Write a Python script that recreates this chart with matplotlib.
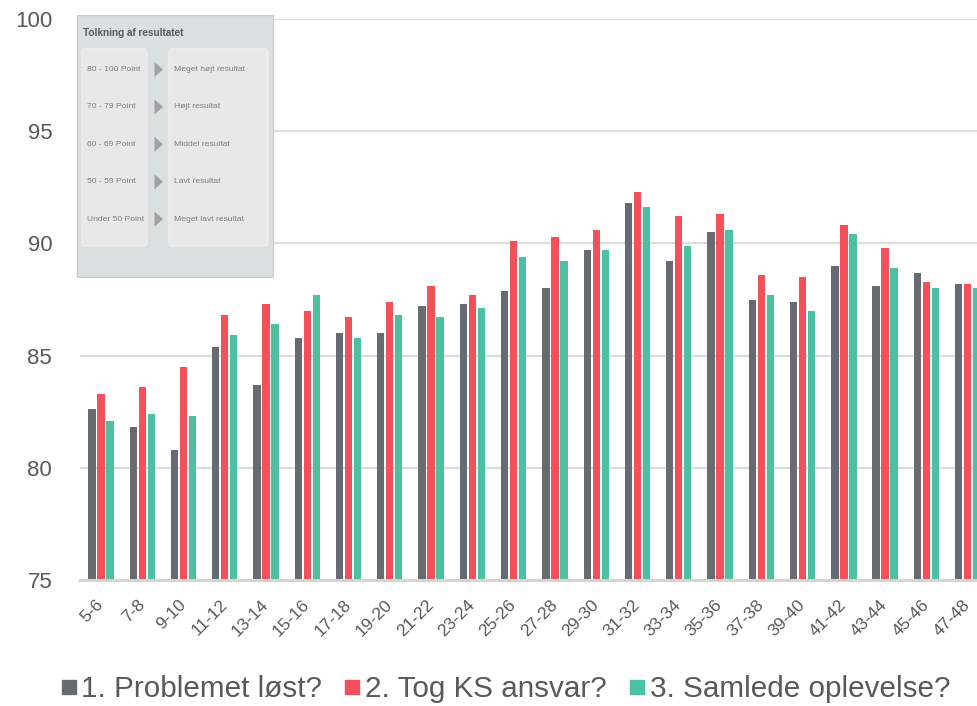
import matplotlib
matplotlib.use("Agg")
import matplotlib.pyplot as plt
import numpy as np
from matplotlib.lines import Line2D
from matplotlib.patches import FancyBboxPatch, Rectangle, Polygon

plt.rcParams["font.family"] = ["Liberation Sans", "DejaVu Sans"]

groups = ["5-6", "7-8", "9-10", "11-12", "13-14", "15-16", "17-18", "19-20",
          "21-22", "23-24", "25-26", "27-28", "29-30", "31-32", "33-34", "35-36",
          "37-38", "39-40", "41-42", "43-44", "45-46", "47-48"]

problem_solved = [82.6, 81.8, 80.8, 85.4, 83.7, 85.8, 86.0, 86.0, 87.2, 87.3, 87.9,
                  88.0, 89.7, 91.8, 89.2, 90.5, 87.5, 87.4, 89.0, 88.1, 88.7, 88.2]
took_ownership = [83.3, 83.6, 84.5, 86.8, 87.3, 87.0, 86.7, 87.4, 88.1, 87.7, 90.1,
                  90.3, 90.6, 92.3, 91.2, 91.3, 88.6, 88.5, 90.8, 89.8, 88.3, 88.2]
overall = [82.1, 82.4, 82.3, 85.9, 86.4, 87.7, 85.8, 86.8, 86.7, 87.1, 89.4,
           89.2, 89.7, 91.6, 89.9, 90.6, 87.7, 87.0, 90.4, 88.9, 88.0, 88.0]

series_names = ["1. Problemet løst?", "2. Tog KS ansvar?", "3. Samlede oplevelse?"]
colors = ["#666b72", "#f5505a", "#4cc0a0"]

score_ranges = ["80 - 100 Point", "70 - 79 Point", "60 - 69 Point",
                "50 - 59 Point", "Under 50 Point"]
score_meaning = ["Meget højt resultat", "Højt resultat", "Middel resultat",
                 "Lavt resultat", "Meget lavt resultat"]

W, H = 978, 706
fig = plt.figure(figsize=(W / 100, H / 100), dpi=100)
ax = fig.add_axes([80 / W, 1 - 580 / H, 1 - 80 / W, (580 - 19) / H])

x = np.arange(len(groups))
step = 0.218
width = 0.177
for i, vals in enumerate([problem_solved, took_ownership, overall]):
    ax.bar(x + (i - 1) * step, vals, width, color=colors[i], zorder=3)

ax.set_ylim(75, 100)
ax.set_xlim(-0.506, 21.25)
ax.set_yticks([75, 80, 85, 90, 95, 100])
ax.grid(axis="y", color="#dcdcdc", linewidth=1.6, zorder=0)
ax.set_axisbelow(True)
for side in ["top", "left", "right"]:
    ax.spines[side].set_visible(False)
ax.spines["bottom"].set_color("#d4d4d4")
ax.spines["bottom"].set_linewidth(2.2)
ax.spines["bottom"].set_zorder(4)

ax.set_xticks(x)
ax.set_xticklabels(groups, rotation=45, ha="right", va="center",
                   rotation_mode="anchor", fontsize=12.5, color="#595959")
ax.tick_params(axis="x", length=0, pad=16)
ax.tick_params(axis="y", length=0, pad=20, labelsize=16, labelcolor="#595959")

handles = [Line2D([], [], marker="s", linestyle="none", markersize=10.5,
                  markerfacecolor=c, markeredgecolor=c) for c in colors]
fig.legend(handles, series_names, loc="center", ncol=3,
           bbox_to_anchor=(506 / W, 1 - 689 / H), frameon=False,
           fontsize=21.3, labelcolor="#595959", handlelength=0.45,
           handletextpad=0.2, columnspacing=0.8, borderaxespad=0)

# interpretation box in the upper left corner
box = fig.add_axes([76 / W, 1 - 278 / H, 198 / W, 263 / H])
box.set_xlim(76, 274)
box.set_ylim(278, 15)
box.axis("off")
box.add_patch(Rectangle((76.5, 15.5), 197, 262, facecolor="#d9e0df",
                        edgecolor="#c6cecd", linewidth=1))
box.text(83, 33, "Tolkning af resultatet", fontsize=7.2, fontweight="bold",
         color="#555a5a", va="center", ha="left")
for x0, x1 in [(82, 147), (169, 268)]:
    box.add_patch(FancyBboxPatch((x0, 49), x1 - x0, 197,
                                 boxstyle="round,pad=0,rounding_size=3",
                                 facecolor="#e8e8e8", edgecolor="#eeeeee",
                                 linewidth=1))
for j, (rng, txt) in enumerate(zip(score_ranges, score_meaning)):
    yy = 69.5 + j * 37.4
    box.text(87, yy, rng, fontsize=6.1, color="#7a7e7e", va="center", ha="left")
    box.text(174, yy, txt, fontsize=6.1, color="#7a7e7e", va="center", ha="left")
    box.add_patch(Polygon([(154.5, yy - 7.5), (154.5, yy + 7.5), (163, yy)],
                          closed=True, facecolor="#9ea2a2", edgecolor="none"))

fig.savefig("out.png", dpi=100)
